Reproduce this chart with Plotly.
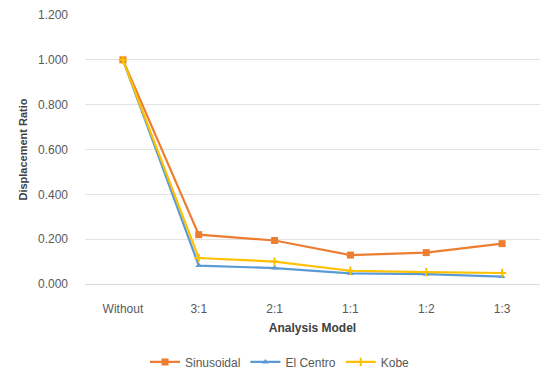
import plotly.graph_objects as go

# Analysis models (x categories)
models = ["Without", "3:1", "2:1", "1:1", "1:2", "1:3"]

# Displacement ratio per excitation
sinusoidal = [1.000, 0.220, 0.194, 0.129, 0.140, 0.180]
el_centro = [1.000, 0.082, 0.071, 0.047, 0.044, 0.033]
kobe = [1.000, 0.116, 0.100, 0.059, 0.053, 0.049]

y_ticks = [0.0, 0.2, 0.4, 0.6, 0.8, 1.0, 1.2]

FONT = "Liberation Sans"
GREY = "#595959"

fig = go.Figure()
fig.add_trace(go.Scatter(
    x=models, y=sinusoidal, name="Sinusoidal", mode="lines+markers",
    line=dict(color="#ED7D31", width=2.2),
    marker=dict(symbol="square", size=7, color="#ED7D31"),
))
fig.add_trace(go.Scatter(
    x=models, y=el_centro, name="El Centro", mode="lines+markers",
    line=dict(color="#5B9BD5", width=2.2),
    marker=dict(symbol="triangle-up", size=6, color="#5B9BD5"),
))
fig.add_trace(go.Scatter(
    x=models, y=kobe, name="Kobe", mode="lines+markers",
    line=dict(color="#FFC000", width=2.2),
    marker=dict(symbol="cross-thin", size=6, color="#FFC000",
                line=dict(color="#FFC000", width=2)),
))

fig.update_layout(
    width=560, height=375,
    margin=dict(l=85, r=20, t=15, b=91, autoexpand=False),
    paper_bgcolor="white", plot_bgcolor="white",
    font=dict(family=FONT, size=12, color=GREY),
    showlegend=True,
    legend=dict(orientation="h", x=0.5, xref="container", xanchor="center",
                y=0.035, yref="container", yanchor="middle",
                font=dict(size=12, color=GREY),
                itemwidth=30, traceorder="normal"),
    xaxis=dict(
        type="category", range=[-0.5, 5.5], showgrid=False,
        showline=True, linecolor="#D9D9D9", linewidth=1,
        ticks="", tickfont=dict(size=12, color=GREY), ticklabelstandoff=14,
        automargin=False,
        title=dict(text="<b>Analysis Model</b>",
                   font=dict(size=12, color="#404040"), standoff=8),
    ),
    yaxis=dict(
        range=[0, 1.2], tickvals=y_ticks, tickformat=".3f",
        showgrid=True, gridcolor="#E3E3E3", gridwidth=1,
        zeroline=False, showline=False, ticks="", automargin=False,
        tickfont=dict(size=12, color=GREY), ticklabelstandoff=16,
        title=dict(text="<b>Displacement Ratio</b>",
                   font=dict(size=11, color="#404040"), standoff=8),
    ),
)

fig.write_html("out.html")
